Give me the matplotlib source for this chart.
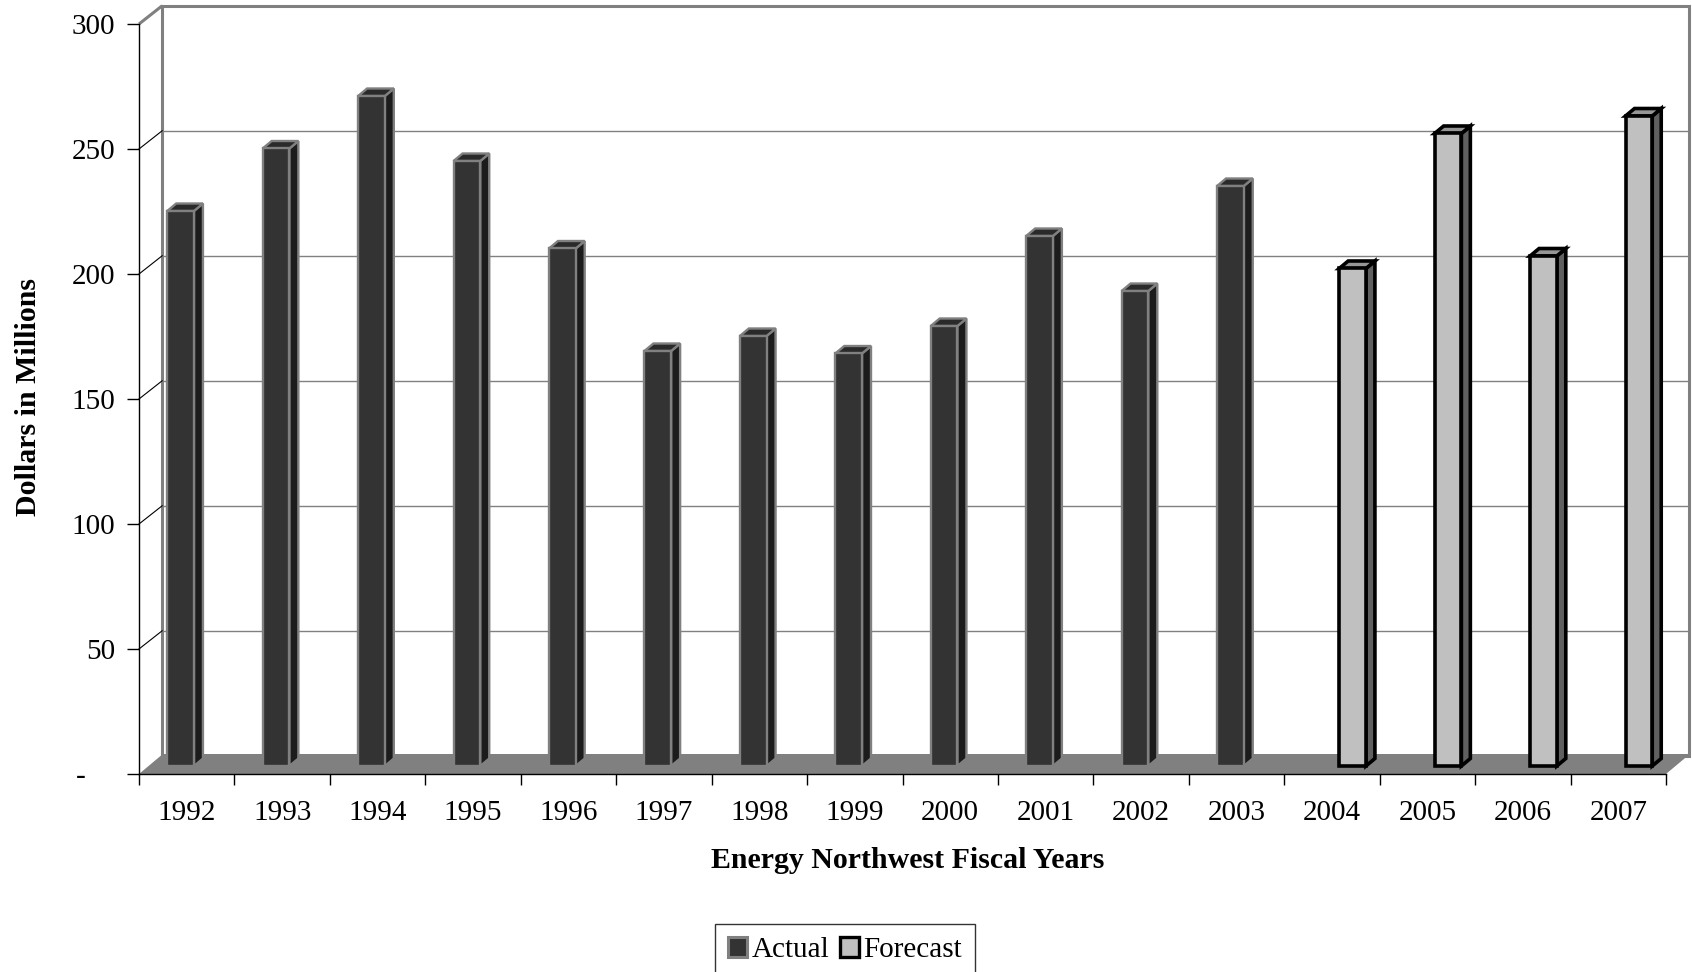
import matplotlib
matplotlib.use("Agg")
import matplotlib.pyplot as plt
from matplotlib.patches import Polygon, Patch

# ---- data ----
years = [str(y) for y in range(1992, 2008)]
actual_years = years[:12]
actual_values = [222, 247, 268, 242, 207, 166, 172, 165, 176, 212, 190, 232]
forecast_years = years[12:]
forecast_values = [199, 253, 204, 260]
y_ticks = [0, 50, 100, 150, 200, 250, 300]
y_tick_labels = ["-    ", "50", "100", "150", "200", "250", "300"]

plt.rcParams['font.family'] = ['Liberation Serif', 'DejaVu Serif']

W, H = 1692, 972
fig = plt.figure(figsize=(W / 100, H / 100), dpi=100)
fig.patch.set_facecolor('white')

# front plane of the 3-D box (pixels)
x0px, x1px, ytop_px, ybot_px = 139, 1666, 24, 774
ax = fig.add_axes([x0px / W, 1 - ybot_px / H, (x1px - x0px) / W, (ybot_px - ytop_px) / H])
n = len(years)
ymax = 300
ax.set_xlim(0, n)
ax.set_ylim(0, ymax)
ax.patch.set_visible(False)

# depth offsets of the back wall / floor (data units)
WALL_DX, WALL_DY = 0.243, 7.3
FLOOR_DX, FLOOR_DY = 0.25, 8.0
# bar geometry (data units)
BAR_W = 0.28
BAR_DX, BAR_DY = 0.094, 3.0
BAR_BASE = 3.2
CLUSTER_SHIFT = 0.076
WALL_GREY = '#808080'

# back wall
wall = Polygon([(WALL_DX, WALL_DY), (n + WALL_DX, WALL_DY),
                (n + WALL_DX, ymax + WALL_DY), (WALL_DX, ymax + WALL_DY)],
               closed=True, facecolor='white', edgecolor=WALL_GREY, lw=2.2,
               joinstyle='miter', clip_on=False, zorder=0.5)
ax.add_patch(wall)

# gridlines on the back wall and their links to the value axis
for v in y_ticks[1:-1]:
    ax.plot([WALL_DX, n + WALL_DX], [v + WALL_DY, v + WALL_DY], color=WALL_GREY,
            lw=1.0, clip_on=False, zorder=0.6, solid_capstyle='butt')
    ax.plot([0, WALL_DX], [v, v + WALL_DY], color='black', lw=0.8,
            clip_on=False, zorder=0.6)
ax.plot([0, WALL_DX], [ymax, ymax + WALL_DY], color=WALL_GREY, lw=2.2,
        clip_on=False, zorder=0.6, solid_capstyle='butt')

# floor
floor = Polygon([(0, 0), (n, 0), (n + FLOOR_DX, FLOOR_DY), (FLOOR_DX, FLOOR_DY)],
                closed=True, facecolor=WALL_GREY, edgecolor='none',
                clip_on=False, zorder=0.8)
ax.add_patch(floor)


def draw_bar(xc, value, face, side, top, edge, lw):
    xl, xr = xc - BAR_W / 2, xc + BAR_W / 2
    b, t = BAR_BASE, BAR_BASE + value
    shapes = [
        ([(xr, b), (xr + BAR_DX, b + BAR_DY), (xr + BAR_DX, t + BAR_DY), (xr, t)], side),
        ([(xl, t), (xl + BAR_DX, t + BAR_DY), (xr + BAR_DX, t + BAR_DY), (xr, t)], top),
        ([(xl, b), (xr, b), (xr, t), (xl, t)], face),
    ]
    for pts, col in shapes:
        ax.add_patch(Polygon(pts, closed=True, facecolor=col, edgecolor=edge, lw=lw,
                             joinstyle='miter', clip_on=False, zorder=2))


actual_style = dict(face='#333333', side='#1c1c1c', top='#2a2a2a', edge=WALL_GREY, lw=1.7)
forecast_style = dict(face='#c0c0c0', side='#606060', top='#969696', edge='black', lw=2.6)

for yr, v in zip(actual_years, actual_values):
    i = years.index(yr)
    draw_bar(i + 0.5 + CLUSTER_SHIFT - BAR_W / 2, v, **actual_style)
for yr, v in zip(forecast_years, forecast_values):
    i = years.index(yr)
    draw_bar(i + 0.5 + CLUSTER_SHIFT + BAR_W / 2, v, **forecast_style)

# axes lines and ticks
for s in ('top', 'right'):
    ax.spines[s].set_visible(False)
for s in ('left', 'bottom'):
    ax.spines[s].set_color('black')
    ax.spines[s].set_linewidth(1.0)
    ax.spines[s].set_zorder(3)

ax.set_yticks(y_ticks)
ax.set_yticklabels(y_tick_labels)
ax.tick_params(axis='y', direction='out', length=8.6, width=1.0, pad=8.5,
               labelsize=21, colors='black')

ax.set_xticks(range(n + 1))
ax.set_xticklabels([])
ax.set_xticks([i + 0.5 for i in range(n)], minor=True)
ax.set_xticklabels(years, minor=True)
ax.tick_params(axis='x', which='major', direction='out', length=8, width=1.0)
ax.tick_params(axis='x', which='minor', length=0, pad=18.5, labelsize=21)

# axis titles
fig.text(908 / W, 1 - 860 / H, 'Energy Northwest Fiscal Years', fontsize=21.5,
         fontweight='bold', ha='center', va='center')
fig.text(28 / W, 1 - 397 / H, 'Dollars in Millions', fontsize=21.5,
         fontweight='bold', ha='center', va='center', rotation=90)

# legend
handles = [Patch(facecolor='#333333', edgecolor=WALL_GREY, lw=2.2, label='Actual'),
           Patch(facecolor='#c0c0c0', edgecolor='black', lw=2.4, label='Forecast')]
leg = fig.legend(handles=handles, loc='upper center', ncol=2,
                 bbox_to_anchor=(845 / W, 1 - 924 / H), borderaxespad=0,
                 fontsize=21, handlelength=0.65, handleheight=0.65,
                 handletextpad=0.15, columnspacing=0.35, borderpad=0.45,
                 fancybox=False, shadow=False, frameon=True)
leg.get_frame().set_edgecolor('black')
leg.get_frame().set_linewidth(1.0)

fig.savefig('out.png', dpi=100, facecolor='white')
